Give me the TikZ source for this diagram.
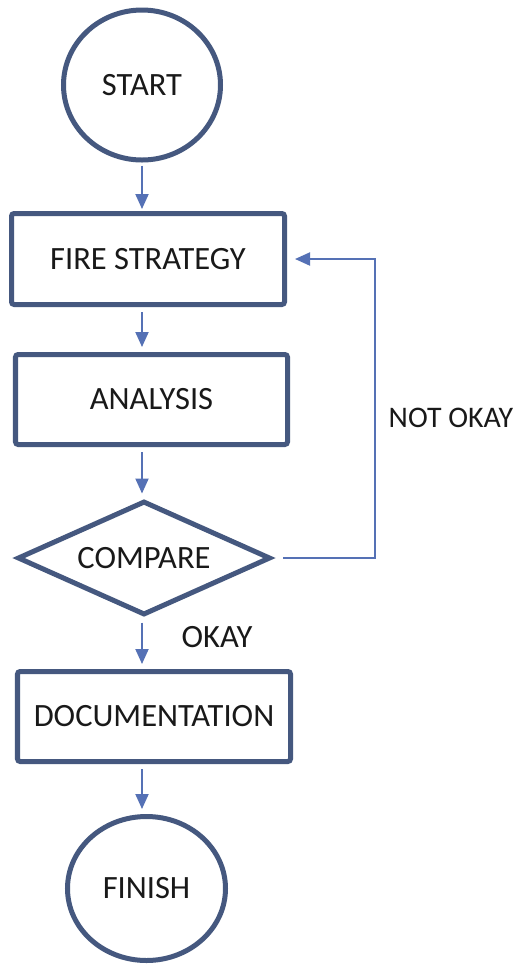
\documentclass[tikz,border=0pt]{standalone}
\usepackage{fontspec}
\setmainfont{Carlito}
\usepackage{xcolor}
\usetikzlibrary{arrows.meta, shapes.geometric}
\definecolor{edgeblue}{HTML}{45587F}
\definecolor{flowblue}{HTML}{5571B5}

\begin{document}
\begin{tikzpicture}[>={Triangle[length=3mm, width=2.6mm]}, every node/.style={font=\fontsize{18.5}{22}\selectfont, text=black!90},
  term/.style={draw=edgeblue, line width=0.1cm, ellipse, inner sep=0pt},
  procbox/.style={draw=edgeblue, line width=0.1cm, rounded corners=1.5pt, minimum width=5.46cm, minimum height=1.82cm},
  decide/.style={draw=edgeblue, line width=0.1cm, diamond, shape aspect=2.2, inner sep=0pt, minimum width=5.06cm, minimum height=2.28cm},
  flow/.style={->, draw=flowblue, line width=1.1pt, shorten <=0.1cm, shorten >=0.1cm}]
  \useasboundingbox[fill=white] (0,0) rectangle (10.36,-19.3);
  \node[term, minimum width=3.14cm, minimum height=3.0cm] (start) at (2.84,-1.70) {START};
  \node[procbox] (fire) at (2.96,-5.18) {FIRE STRATEGY};
  \node[procbox, minimum width=5.44cm, minimum height=1.80cm] (analysis) at (3.03,-7.99) {ANALYSIS};
  \node[decide] (compare) at (2.88,-11.16) {COMPARE};
  \node[procbox, minimum height=1.80cm] (doc) at (3.08,-14.33) {DOCUMENTATION};
  \node[term, minimum width=3.16cm, minimum height=2.88cm] (finish) at (2.93,-17.77) {FINISH};
  \node[font=\fontsize{17}{20}\selectfont] (notok) at (9.02,-8.36) {NOT OKAY};
  \node (okay) at (4.34,-12.74) {OKAY};
  \draw[flow, shorten <=0.06cm, shorten >=0.04cm] (start.south) -- (start.south |- fire.north);
  \draw[flow] (fire.south -| start) -- (analysis.north -| start);
  \draw[flow] (analysis.south -| start) -- (compare.north -| start);
  \draw[flow] (compare.south -| start) -- (doc.north -| start);
  \draw[flow] (doc.south -| start) -- (finish.north -| start);
  \draw[flow, shorten <=0.2cm, shorten >=0.16cm] (compare.east) -- ++(2.04,0) |- (fire.east);
\end{tikzpicture}
\end{document}
